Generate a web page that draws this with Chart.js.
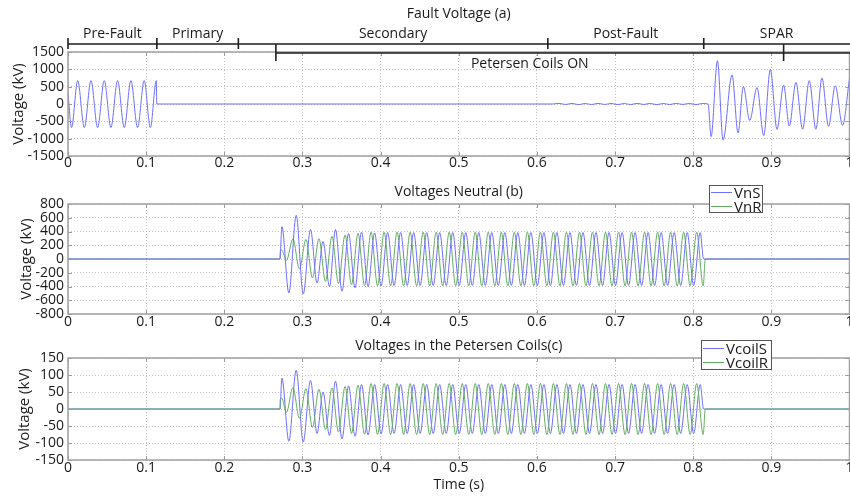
<!DOCTYPE html>
<html>
<head>
<meta charset="utf-8">
<title>Fault Voltage</title>
<script src="https://cdn.jsdelivr.net/npm/chart.js@4.4.1/dist/chart.umd.min.js"></script>
<style>
  body { margin: 0; width: 850px; height: 496px; overflow: hidden; background: #fff; position: relative; font-family: "Open Sans", sans-serif; }
  canvas { position: absolute; left: 0; }
  .legend { position: absolute; background: #fff; border: 1px solid #555; font-size: 15px; color: #1a1a1a; box-sizing: border-box; }
  .legend .row { display: flex; align-items: center; white-space: nowrap; line-height: 13px; }
  .legend .swatch { display: inline-block; width: 21px; height: 0; border-top: 1px solid; margin: 0 2px 0 1px; }
</style>
</head>
<body>
<canvas id="chartA" width="860" height="172" style="top:0"></canvas>
<canvas id="chartB" width="860" height="160" style="top:172px"></canvas>
<canvas id="chartC" width="860" height="164" style="top:332px"></canvas>
<div id="legendB" class="legend" style="left:709px;top:185px;width:54px;height:28px"></div>
<div id="legendC" class="legend" style="left:701px;top:340px;width:71px;height:30px"></div>
<script>
// tick values
const timeTicks = [0, 0.1, 0.2, 0.3, 0.4, 0.5, 0.6, 0.7, 0.8, 0.9, 1];
const faultTicks = [-1500, -1000, -500, 0, 500, 1000, 1500];
const neutralTicks = [-800, -600, -400, -200, 0, 200, 400, 600, 800];
const coilTicks = [-150, -100, -50, 0, 50, 100, 150];

// (a) fault voltage, extrema (s, kV)
const faultT = [0, 0.0045, 0.0124, 0.0209, 0.0294, 0.0379, 0.0464, 0.0549, 0.0634, 0.0720, 0.0805, 0.0890, 0.0975, 0.1054, 0.1130, 0.1136,
  0.6200, 0.6283, 0.6367, 0.6450, 0.6533, 0.6617, 0.6700, 0.6783, 0.6867, 0.6950, 0.7033, 0.7117, 0.7200, 0.7283, 0.7367, 0.7450,
  0.7533, 0.7617, 0.7700, 0.7783, 0.7867, 0.7950, 0.8033, 0.8117, 0.8191,
  0.8229, 0.8310, 0.8382, 0.8497, 0.8574, 0.8642, 0.8723, 0.8817, 0.8902, 0.8987, 0.9072, 0.9157, 0.9229, 0.9315, 0.9400, 0.9485,
  0.9570, 0.9647, 0.9732, 0.9817, 0.9911, 1.0];
const faultV = [316, -680, 675, -680, 675, -680, 675, -680, 675, -680, 675, -680, 675, -680, 675, 0,
  0, 18, -14, 16, -18, 14, -16, 18, -14, 16, -18, 14, -16, 18, -14, 16,
  -18, 14, -16, 18, -14, 16, -18, 14, 0,
  -940, 1250, -1040, 840, -830, 505, -475, 475, -910, 1000, -730, 545, -635, 625, -730, 675,
  -730, 750, -645, 525, -615, 740];

// phase brackets above plot (a)
const phaseStart = [0, 0.1137, 0.218, 0.614, 0.8135];
const phaseNames = ['Pre-Fault', 'Primary', 'Secondary', 'Post-Fault', 'SPAR'];
const coilOn = [0.266, 0.9157];
const coilLabel = 'Petersen Coils ON';

// S side extrema times (s), shared by (b) and (c)
const tS = [0, 0.2712, 0.2737, 0.2826, 0.2920, 0.3010, 0.3103, 0.3187, 0.3263, 0.3346,
  0.3423, 0.3506, 0.3590, 0.3673, 0.3756, 0.3840, 0.3923, 0.4006, 0.4090, 0.4173,
  0.4256, 0.4340, 0.4423, 0.4506, 0.4590, 0.4673, 0.4756, 0.4840, 0.4923, 0.5006,
  0.5090, 0.5173, 0.5256, 0.5340, 0.5423, 0.5506, 0.5590, 0.5673, 0.5756, 0.5840,
  0.5923, 0.6006, 0.6090, 0.6173, 0.6256, 0.6340, 0.6423, 0.6506, 0.6590, 0.6673,
  0.6756, 0.6840, 0.6923, 0.7006, 0.7090, 0.7173, 0.7256, 0.7340, 0.7423, 0.7506,
  0.7590, 0.7673, 0.7756, 0.7840, 0.7923, 0.8006, 0.8090,
  0.8133, 1.0];
// R side extrema times (s)
const tR = [0, 0.2712, 0.2716, 0.2735, 0.2795,
  0.2878, 0.2961, 0.3045, 0.3128, 0.3211, 0.3295, 0.3378, 0.3461, 0.3545, 0.3628,
  0.3711, 0.3795, 0.3878, 0.3961, 0.4045, 0.4128, 0.4211, 0.4295, 0.4378, 0.4461,
  0.4545, 0.4628, 0.4711, 0.4795, 0.4878, 0.4961, 0.5045, 0.5128, 0.5211, 0.5295,
  0.5378, 0.5461, 0.5545, 0.5628, 0.5711, 0.5795, 0.5878, 0.5961, 0.6045, 0.6128,
  0.6211, 0.6295, 0.6378, 0.6461, 0.6545, 0.6628, 0.6711, 0.6795, 0.6878, 0.6961,
  0.7045, 0.7128, 0.7211, 0.7295, 0.7378, 0.7461, 0.7545, 0.7628, 0.7711, 0.7795,
  0.7878, 0.7961, 0.8045, 0.8128,
  0.8155, 1.0];

// (b) neutral voltages (kV)
const vnS = [0, 0, 470, -495, 635, -510, 430, -350, 256, -400,
  430, -470, 370, -420, 390, -400, 380, -390, 385, -385,
  385, -385, 385, -385, 385, -385, 385, -385, 385, -385,
  385, -385, 385, -385, 385, -385, 385, -385, 385, -385,
  385, -385, 385, -385, 385, -385, 385, -385, 385, -385,
  385, -385, 385, -385, 385, -385, 385, -385, 385, -385,
  385, -385, 385, -385, 385, -385, 385,
  0, 0];
const vnR = [0, 0, 110, 130, -20,
  290, -143, 285, -276, 295, -325, 330, -357, 350, -375,
  375, -385, 390, -390, 390, -390, 390, -390, 390, -390,
  390, -390, 390, -390, 390, -390, 390, -390, 390, -390,
  390, -390, 390, -390, 390, -390, 390, -390, 390, -390,
  390, -390, 390, -390, 390, -390, 390, -390, 390, -390,
  390, -390, 390, -390, 390, -390, 390, -390, 390, -390,
  390, -390, 390, -390,
  0, 0];

// (c) Petersen coil voltages (kV)
const vcS = [0, 0, 91, -95, 114, -97, 84, -72, 50, -78,
  82, -88, 68, -80, 72, -76, 72, -73, 72, -72,
  72, -72, 72, -72, 72, -72, 72, -72, 72, -72,
  72, -72, 72, -72, 72, -72, 72, -72, 72, -72,
  72, -72, 72, -72, 72, -72, 72, -72, 72, -72,
  72, -72, 72, -72, 72, -72, 72, -72, 72, -72,
  72, -72, 72, -72, 72, -72, 72,
  0, 0];
const vcR = [0, 0, 28, 32, -10,
  63, -27, 60, -55, 58, -60, 62, -68, 66, -72,
  70, -74, 75, -75, 75, -75, 75, -75, 75, -75,
  75, -75, 75, -75, 75, -75, 75, -75, 75, -75,
  75, -75, 75, -75, 75, -75, 75, -75, 75, -75,
  75, -75, 75, -75, 75, -75, 75, -75, 75, -75,
  75, -75, 75, -75, 75, -75, 75, -75, 75, -75,
  75, -75, 75, -75,
  0, 0];

const FONT = '"Open Sans", sans-serif';
const TEXT = '#1a1a1a';
const BLUE = '#6e6eff';
const GREEN = '#62ad62';

function pts(ts, vs) {
  return ts.map((t, i) => ({ x: t, y: vs[i] }));
}

// plain numbers, no thousands separator
const plain = v => String(Math.round(v * 1000) / 1000);

// box, inward ticks and centred title
const frame = {
  id: 'frame',
  afterDraw(chart, args, opts) {
    const { ctx, chartArea: a, scales: { x, y } } = chart;
    ctx.save();
    ctx.strokeStyle = '#9a9a9a';
    ctx.lineWidth = 1;
    ctx.beginPath();
    x.ticks.forEach(t => {
      const px = Math.round(x.getPixelForValue(t.value)) + 0.5;
      ctx.moveTo(px, a.bottom); ctx.lineTo(px, a.bottom - 4);
      ctx.moveTo(px, a.top); ctx.lineTo(px, a.top + 4);
    });
    y.ticks.forEach(t => {
      const py = Math.round(y.getPixelForValue(t.value)) + 0.5;
      ctx.moveTo(a.left, py); ctx.lineTo(a.left + 4, py);
      ctx.moveTo(a.right, py); ctx.lineTo(a.right - 4, py);
    });
    ctx.stroke();
    ctx.lineWidth = 1.5;
    ctx.strokeStyle = '#a0a0a0';
    ctx.strokeRect(a.left, a.top, a.right - a.left, a.bottom - a.top);
    ctx.fillStyle = TEXT;
    ctx.font = '14px ' + FONT;
    ctx.textAlign = 'center';
    ctx.textBaseline = 'middle';
    ctx.fillText(opts.text, (a.left + a.right) / 2, a.top + opts.dy);
    ctx.restore();
  }
};

// phase brackets for plot (a)
const phases = {
  id: 'phases',
  afterDraw(chart) {
    const { ctx, chartArea: a, scales: { x } } = chart;
    const px = t => x.getPixelForValue(t);
    const right = chart.width;
    ctx.save();
    ctx.strokeStyle = '#1e1e1e';
    ctx.lineWidth = 1.6;
    ctx.beginPath();
    ctx.moveTo(px(phaseStart[0]), a.top - 8); ctx.lineTo(right, a.top - 8);
    phaseStart.forEach(t => { ctx.moveTo(px(t), a.top - 14); ctx.lineTo(px(t), a.top - 3); });
    ctx.moveTo(px(coilOn[0]), a.top + 1); ctx.lineTo(right, a.top + 1);
    coilOn.forEach(t => { ctx.moveTo(px(t), a.top - 8); ctx.lineTo(px(t), a.top + 9); });
    ctx.stroke();
    ctx.fillStyle = TEXT;
    ctx.font = '14px ' + FONT;
    ctx.textAlign = 'center';
    ctx.textBaseline = 'middle';
    phaseNames.forEach((name, i) => {
      const t1 = i + 1 < phaseStart.length ? phaseStart[i + 1] : x.max;
      ctx.fillText(name, (px(phaseStart[i]) + px(t1)) / 2, a.top - 18);
    });
    ctx.fillText(coilLabel, (px(coilOn[0]) + px(coilOn[1])) / 2, a.top + 12);
    ctx.restore();
  }
};

function makeChart(id, cfg) {
  const tickFont = { family: FONT, size: 14, lineHeight: 1 };
  return new Chart(document.getElementById(id), {
    type: 'line',
    data: { datasets: cfg.datasets },
    options: {
      responsive: false,
      animation: false,
      events: [],
      layout: { padding: { left: cfg.padLeft, right: 10.5, top: cfg.top, bottom: 0 } },
      elements: {
        point: { radius: 0 },
        line: { borderWidth: 1, cubicInterpolationMode: 'monotone', fill: false }
      },
      plugins: {
        legend: { display: false },
        tooltip: { enabled: false },
        frame: { text: cfg.title, dy: cfg.titleDy }
      },
      scales: {
        x: {
          type: 'linear', min: 0, max: 1,
          afterBuildTicks(s) { s.ticks = timeTicks.map(v => ({ value: v })); },
          ticks: { autoSkip: false, maxRotation: 0, padding: cfg.xPad, color: TEXT, font: tickFont, callback: plain },
          grid: { color: '#c4c4c4', drawTicks: false },
          border: { display: false, dash: [1, 2] },
          title: cfg.xTitle
            ? { display: true, text: cfg.xTitle, color: TEXT, font: { family: FONT, size: 14 }, padding: { top: 0, bottom: 2.6 } }
            : { display: false },
          afterFit(s) { s.height = cfg.xHeight; s.paddingLeft = 0; s.paddingRight = 0; }
        },
        y: {
          min: cfg.yTicks[0], max: cfg.yTicks[cfg.yTicks.length - 1],
          afterBuildTicks(s) { s.ticks = cfg.yTicks.map(v => ({ value: v })); },
          ticks: { autoSkip: false, padding: 4, color: TEXT, font: tickFont, callback: plain },
          grid: { color: '#c4c4c4', drawTicks: false },
          border: { display: false, dash: [1, 2] },
          title: { display: true, text: 'Voltage (kV)', color: TEXT, font: { family: FONT, size: 15 }, padding: { top: 0, bottom: 0 } },
          afterFit(s) { s.width = 68 - cfg.padLeft; s.paddingTop = 0; s.paddingBottom = 0; }
        }
      }
    },
    plugins: cfg.plugins
  });
}

const chartA = makeChart('chartA', {
  datasets: [{ label: 'Fault Voltage', data: pts(faultT, faultV), borderColor: BLUE }],
  title: 'Fault Voltage (a)', titleDy: -38,
  top: 52, padLeft: 9.5, xHeight: 16, xPad: 0,
  yTicks: faultTicks,
  plugins: [frame, phases]
});

const chartB = makeChart('chartB', {
  datasets: [
    { label: 'VnS', data: pts(tS, vnS), borderColor: BLUE, order: 0 },
    { label: 'VnR', data: pts(tR, vnR), borderColor: GREEN, order: 1 }
  ],
  title: 'Voltages Neutral (b)', titleDy: -12,
  top: 32, padLeft: 18, xHeight: 18, xPad: 1,
  yTicks: neutralTicks,
  plugins: [frame]
});

const chartC = makeChart('chartC', {
  datasets: [
    { label: 'VcoilS', data: pts(tS, vcS), borderColor: BLUE, order: 1 },
    { label: 'VcoilR', data: pts(tR, vcR), borderColor: GREEN, order: 0 }
  ],
  title: 'Voltages in the Petersen Coils(c)', titleDy: -12.3,
  top: 26, padLeft: 16, xHeight: 36, xPad: 1, xTitle: 'Time (s)',
  yTicks: coilTicks,
  plugins: [frame]
});

function buildLegend(elId, chart, rowH) {
  const el = document.getElementById(elId);
  chart.data.datasets.forEach(ds => {
    const row = document.createElement('div');
    row.className = 'row';
    row.style.height = rowH + 'px';
    row.innerHTML = '<span class="swatch" style="border-color:' + ds.borderColor + '"></span><span>' + ds.label + '</span>';
    el.appendChild(row);
  });
}
buildLegend('legendB', chartB, 13.4);
buildLegend('legendC', chartC, 14);
</script>
</body>
</html>
